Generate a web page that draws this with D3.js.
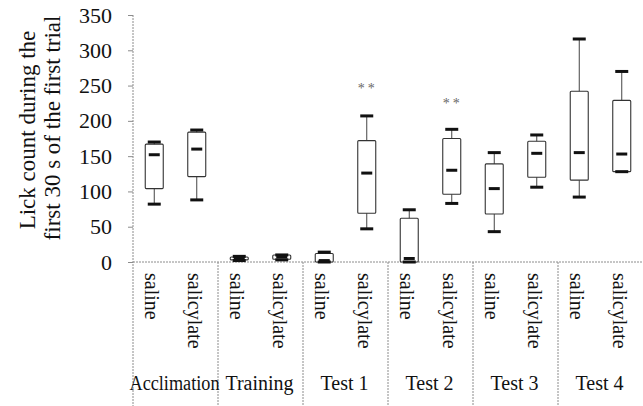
<!DOCTYPE html>
<html lang="en">
<head>
    <meta charset="UTF-8">
    <title>Lick count box plot</title>
    <script src="https://d3js.org/d3.v7.min.js"></script>
    <style>
        body { margin: 0; background: #fff; }
        svg text { font-family: "Liberation Serif", "Times New Roman", serif; fill: #111; }
    </style>
</head>
<body>
    <svg width="643" height="406" font-family="Liberation Serif, serif"></svg>

    <script>
        // chart data
        const groups = ["Acclimation", "Training", "Test 1", "Test 2", "Test 3", "Test 4"];
        const treatments = ["saline", "salicylate"];
        // one value per box, in order group by group: saline, salicylate
        const mins    = [82, 88,   2, 3,   0, 47,   0, 83,   43, 106,  92, 128];
        const q1s     = [104, 121, 3, 4,   0, 69,   0, 96,   68, 120,  116, 128];
        const medians = [152, 160, 5, 7,   2, 126,  5, 130,  104, 154, 155, 153];
        const q3s     = [167, 184, 7, 10,  12, 172, 62, 175, 139, 171, 242, 229];
        const maxs    = [170, 187, 8, 10,  14, 207, 74, 188, 155, 180, 316, 270];
        // significance marks: [group, treatment, y value of the mark]
        const stars = [["Test 1", "salicylate", 246], ["Test 2", "salicylate", 224]];
        const yTicks = [0, 50, 100, 150, 200, 250, 300, 350];

        const svg = d3.select("svg");
        const mLeft = 133, mRight = 643, mTop = 15, mBottom = 262;

        const y = d3.scaleLinear().domain([0, 350]).range([mBottom, mTop]);
        const x0 = d3.scaleBand().domain(groups).range([mLeft, mRight]);
        const x1 = d3.scaleBand().domain(treatments).range([0, x0.bandwidth()]);

        const boxes = [];
        groups.forEach((g, i) => treatments.forEach((t, j) => {
            const k = i * 2 + j;
            boxes.push({ group: g, treat: t, min: mins[k], q1: q1s[k], med: medians[k], q3: q3s[k], max: maxs[k] });
        }));

        const axisColor = "#8c8c8c";

        // y axis
        const yAxis = svg.append("g")
            .attr("transform", `translate(${mLeft},0)`)
            .call(d3.axisLeft(y).tickValues(yTicks).tickSize(5).tickPadding(16))
            .attr("font-family", "Liberation Serif, serif")
            .attr("font-size", 22);
        yAxis.select(".domain").remove();
        yAxis.selectAll(".tick line").attr("stroke", axisColor);
        yAxis.selectAll(".tick text").attr("fill", "#111");

        // axis frame and group separators
        svg.append("line")
            .attr("x1", mLeft).attr("x2", mLeft).attr("y1", mTop).attr("y2", 406)
            .attr("stroke", axisColor).attr("stroke-dasharray", "2,1");
        svg.append("line")
            .attr("x1", mLeft).attr("x2", mRight).attr("y1", y(0)).attr("y2", y(0))
            .attr("stroke", axisColor).attr("stroke-dasharray", "2,1");
        svg.selectAll(".sep")
            .data(groups.slice(1))
            .enter().append("line")
            .attr("class", "sep")
            .attr("x1", d => x0(d)).attr("x2", d => x0(d))
            .attr("y1", y(0)).attr("y2", 406)
            .attr("stroke", axisColor).attr("stroke-dasharray", "2,1");

        // y axis title
        svg.append("text")
            .attr("transform", "translate(27,130) rotate(-90)")
            .attr("text-anchor", "middle")
            .attr("dominant-baseline", "central")
            .style("font-size", "23px")
            .text("Lick count during the");
        svg.append("text")
            .attr("transform", "translate(52,128) rotate(-90)")
            .attr("text-anchor", "middle")
            .attr("dominant-baseline", "central")
            .style("font-size", "23px")
            .text("first 30 s of the first trial");

        // box plots
        const bw = 18, capW = 13, medW = 11;
        const cx = d => x0(d.group) + x1(d.treat) + x1.bandwidth() / 2;
        const bx = svg.append("g").selectAll("g").data(boxes).enter().append("g");

        bx.append("line")
            .attr("x1", cx).attr("x2", cx)
            .attr("y1", d => y(d.max)).attr("y2", d => y(d.min))
            .attr("stroke", "#444").attr("stroke-width", 1);
        bx.append("rect")
            .attr("x", d => cx(d) - bw / 2)
            .attr("width", bw)
            .attr("y", d => y(d.q3))
            .attr("height", d => y(d.q1) - y(d.q3))
            .attr("rx", 1)
            .attr("fill", "#fff")
            .attr("stroke", "#333").attr("stroke-width", 1.1);
        bx.append("line")
            .attr("x1", d => cx(d) - capW / 2).attr("x2", d => cx(d) + capW / 2)
            .attr("y1", d => y(d.max)).attr("y2", d => y(d.max))
            .attr("stroke", "#111").attr("stroke-width", 3);
        bx.append("line")
            .attr("x1", d => cx(d) - capW / 2).attr("x2", d => cx(d) + capW / 2)
            .attr("y1", d => y(d.min)).attr("y2", d => y(d.min))
            .attr("stroke", "#111").attr("stroke-width", 3);
        bx.append("line")
            .attr("x1", d => cx(d) - medW / 2).attr("x2", d => cx(d) + medW / 2)
            .attr("y1", d => y(d.med)).attr("y2", d => y(d.med))
            .attr("stroke", "#111").attr("stroke-width", 3);

        // significance stars
        svg.selectAll(".star")
            .data(stars)
            .enter().append("text")
            .attr("class", "star")
            .attr("x", d => x0(d[0]) + x1(d[1]) + x1.bandwidth() / 2 + 1)
            .attr("y", d => y(d[2]))
            .attr("text-anchor", "middle")
            .attr("dominant-baseline", "central")
            .attr("letter-spacing", "3px")
            .style("font-size", "14px")
            .style("fill", "#666")
            .text("**");

        // treatment labels (vertical)
        svg.selectAll(".cat")
            .data(boxes)
            .enter().append("text")
            .attr("class", "cat")
            .attr("transform", d => `translate(${cx(d) - 2},${y(0) + 11}) rotate(90)`)
            .attr("dominant-baseline", "central")
            .style("font-size", "20px")
            .text(d => d.treat);

        // group labels
        svg.selectAll(".grp")
            .data(groups)
            .enter().append("text")
            .attr("class", "grp")
            .attr("x", d => x0(d) + x0.bandwidth() / 2 - 1)
            .attr("y", 390)
            .attr("text-anchor", "middle")
            .style("font-size", "20px")
            .each(function (d) {
                if (d === "Acclimation") {
                    d3.select(this).attr("textLength", 90).attr("lengthAdjust", "spacingAndGlyphs");
                }
            })
            .text(d => d);
    </script>
</body>
</html>
